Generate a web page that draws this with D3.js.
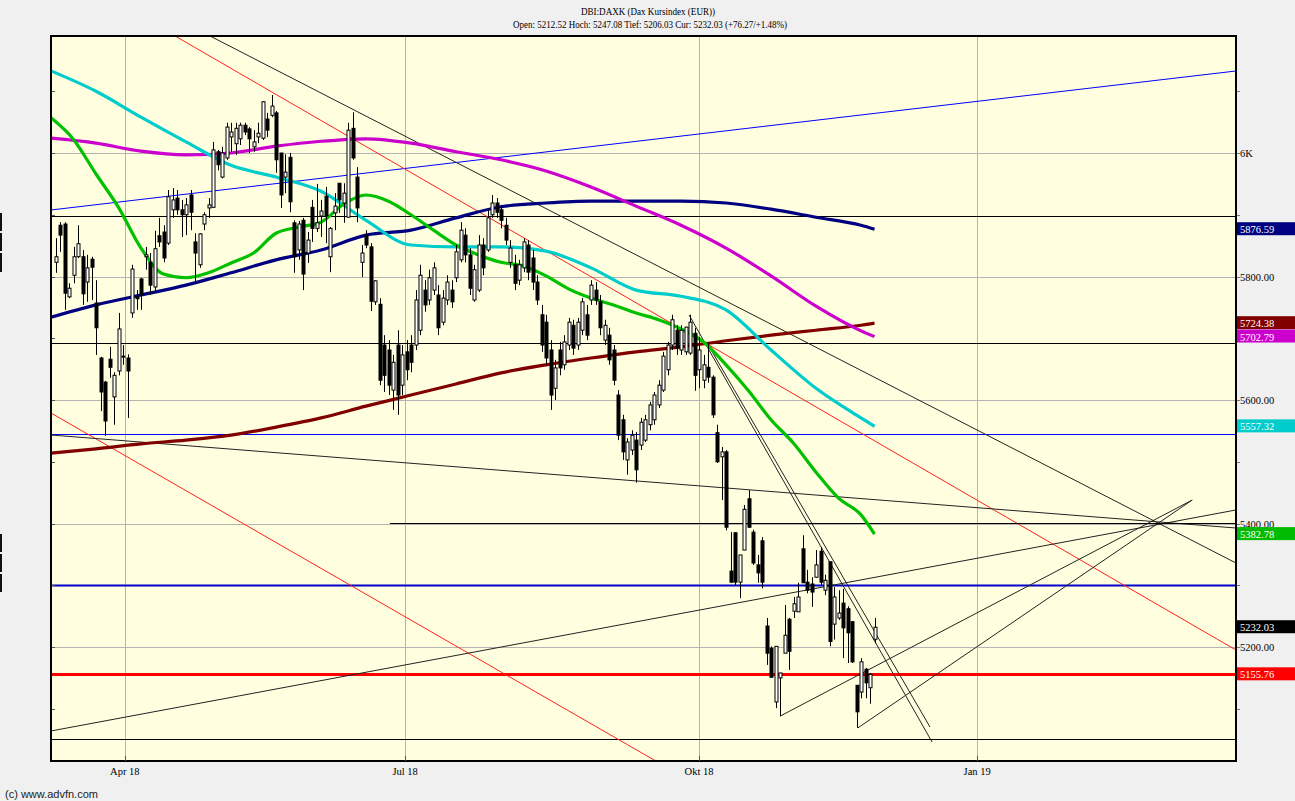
<!DOCTYPE html>
<html><head><meta charset="utf-8">
<script src="https://cdn.jsdelivr.net/npm/d3@7"></script>
<style>body{margin:0;background:#f0f0f0;overflow:hidden}svg{display:block}</style>
</head><body><svg id="c" width="1295" height="801"></svg>
<script>
// ---------- DATA ----------
const titleText = "DBI:DAXK (Dax Kursindex (EUR))";
const subText = "Open: 5212.52 Hoch: 5247.08 Tief: 5206.03 Cur: 5232.03 (+76.27/+1.48%)";
const opens = [5823,5883,5885,5767,5802,5832,5832,5791,5828,5757,5668,5629,5666,5605,5647,5670,5668,5741,5768,5796,5832,5823,5783,5866,5872,5854,5908,5927,5908,5900,5932,5856,5819,5885,5911,5912,6002,5961,5992,6026,6015,6023,6045,6039,6010,6026,6024,6055,6061,6065,6000,5961,5993,5887,5843,5891,5838,5912,5878,5898,5930,5832,5903,5951,5919,5896,6040,5961,5823,5867,5848,5759,5755,5689,5681,5616,5689,5624,5678,5689,5689,5713,5778,5762,5778,5770,5726,5762,5778,5798,5827,5867,5835,5762,5778,5851,5843,5900,5919,5908,5883,5823,5819,5794,5814,5851,5830,5791,5738,5726,5681,5619,5681,5657,5689,5721,5689,5713,5738,5762,5778,5759,5697,5705,5681,5608,5568,5503,5519,5535,5527,5535,5560,5568,5592,5616,5649,5689,5713,5681,5678,5676,5708,5649,5632,5653,5637,5547,5508,5516,5323,5385,5305,5357,5440,5386,5333,5372,5234,5198,5111,5150,5190,5245,5258,5257,5359,5305,5302,5313,5355,5292,5338,5237,5247,5271,5262,5241,5138,5127,5164,5134,5212.52];
const highs = [5862,5888,5888,5789,5848,5883,5843,5835,5832,5794,5670,5631,5686,5645,5741,5689,5674,5819,5778,5798,5848,5838,5874,5895,5883,5940,5943,5940,5924,5927,5940,5870,5870,5904,5927,6018,6005,6010,6049,6049,6049,6049,6049,6042,6037,6049,6084,6065,6094,6068,6000,5998,6000,5891,5890,5895,5872,5924,5950,5924,5945,5880,5935,5951,5951,6049,6066,5977,5851,5875,5854,5794,5765,5705,5697,5673,5713,5689,5697,5705,5778,5819,5794,5811,5823,5786,5778,5802,5794,5851,5888,5878,5846,5819,5867,5862,5908,5932,5927,5916,5895,5859,5835,5827,5862,5859,5843,5802,5754,5738,5697,5665,5694,5705,5733,5730,5733,5765,5754,5794,5791,5770,5730,5717,5689,5616,5576,5538,5551,5548,5571,5576,5597,5613,5632,5678,5694,5738,5721,5721,5718,5738,5717,5702,5673,5692,5640,5560,5524,5519,5386,5386,5349,5430,5454,5390,5349,5378,5247,5201,5201,5158,5268,5247,5281,5304,5381,5325,5313,5357,5362,5317,5338,5297,5292,5294,5266,5241,5138,5182,5166,5158,5247.08];
const lows = [5806,5840,5746,5765,5789,5830,5754,5759,5762,5673,5582,5542,5636,5560,5640,5657,5571,5733,5746,5746,5811,5770,5775,5848,5823,5851,5895,5900,5864,5867,5875,5789,5814,5875,5895,5912,5972,5959,5989,6002,5997,6013,6029,6000,6002,6016,6021,6026,6058,5968,5911,5935,5904,5806,5827,5778,5822,5856,5872,5864,5854,5807,5875,5903,5887,5896,5989,5888,5799,5846,5744,5754,5624,5613,5608,5584,5576,5608,5632,5645,5681,5705,5743,5754,5770,5705,5721,5754,5749,5791,5823,5823,5770,5759,5775,5802,5840,5895,5895,5878,5851,5814,5778,5786,5807,5794,5778,5754,5678,5657,5584,5600,5640,5649,5681,5673,5681,5705,5697,5754,5754,5705,5689,5657,5624,5535,5503,5479,5511,5466,5519,5532,5551,5560,5587,5613,5640,5681,5673,5673,5673,5673,5615,5619,5619,5628,5571,5498,5438,5389,5304,5300,5279,5357,5393,5333,5304,5295,5171,5151,5101,5088,5190,5163,5247,5257,5304,5287,5265,5312,5300,5284,5201,5212,5244,5182,5174,5174,5069,5117,5117,5108,5206.03];
const closes = [5832,5867,5773,5781,5832,5853,5772,5814,5815,5717,5613,5566,5653,5640,5715,5671,5647,5812,5764,5770,5835,5786,5845,5856,5830,5929,5924,5908,5900,5916,5904,5838,5869,5900,5916,6005,5981,6000,6042,6034,6040,6045,6034,6023,6018,6032,6083,6037,6076,5989,5932,5969,5921,5832,5885,5804,5859,5878,5887,5906,5898,5878,5914,5924,5935,6037,5992,5911,5838,5851,5760,5793,5632,5640,5624,5661,5608,5673,5649,5661,5762,5802,5754,5798,5814,5717,5765,5791,5759,5840,5875,5835,5781,5811,5851,5814,5895,5919,5904,5891,5859,5846,5789,5819,5856,5807,5791,5762,5689,5668,5608,5652,5652,5694,5726,5684,5726,5759,5705,5786,5762,5717,5721,5665,5632,5543,5516,5532,5543,5487,5564,5568,5592,5608,5624,5671,5689,5730,5684,5713,5718,5726,5640,5681,5657,5637,5576,5500,5516,5394,5305,5305,5349,5423,5394,5336,5320,5305,5190,5151,5201,5158,5219,5193,5270,5281,5304,5292,5289,5333,5305,5308,5209,5281,5255,5231,5223,5176,5095,5176,5142,5155.76,5232.03];

// moving averages, read at these bar indices
const maIdx = [-1,9,19,29,39,49,59,69,79,89,99,109,119,129,139,149,159,169,179,182];
const maCyan    = [6133,6100,6058,6018,5980,5961,5938,5891,5851,5848,5848,5841,5814,5778,5768,5746,5681,5619,5571,5557.32];
const maMagenta = [6024,6016,6003,5997,6000,6011,6019,6023,6016,6002,5989,5971,5945,5914,5883,5846,5801,5752,5712,5702.79];
const maNavy    = [5734,5754,5770,5786,5806,5827,5843,5867,5875,5895,5913,5919,5922,5922,5922,5919,5909,5896,5883,5876.59];
const maDarkRed = [5514,5521,5529,5535,5543,5556,5571,5590,5608,5626,5644,5657,5668,5678,5686,5696,5705,5713,5721,5724.38];
const greenIdx = [-1,4,9,14,19,24,29,34,39,44,49,54,59,64,69,74,79,84,89,94,99,104,109,114,119,124,129,134,139,144,149,154,159,164,169,174,179,182];
const maGreen  = [6057,6022,5966,5912,5846,5804,5798,5806,5822,5838,5870,5880,5888,5917,5932,5922,5900,5875,5851,5835,5823,5817,5801,5780,5765,5754,5741,5730,5715,5694,5657,5615,5568,5530,5483,5441,5414,5382.78];

// axis
const yTickValues = [6000,5800,5600,5400,5200];
const yTickLabels = ["6K","5800.00","5600.00","5400.00","5200.00"];
const yMinorValues = [6100,6000,5900,5800,5700,5600,5500,5400,5300,5200,5100];
const xTickLabels = ["Apr 18","Jul 18","Okt 18","Jan 19"];
const xTickIdx = [15.4,77.7,143,204.8];

// last-value labels
const lastLabelValues = [5876.59,5724.38,5702.79,5557.32,5382.78,5232.03,5155.76];

// drawn horizontal levels and trend lines (bar index, value)
const hLevels = [5897.9,5692.3,5544.9,5300.4,5155.76,5051];
const hLevelStart = [-1,-1,-1,-1,-1,-1];
const trendLines = [
  {i1:-1, v1:5907.7, i2:262.33, v2:6132.8},   // blue up channel
  {i1:34.33, v1:6189.5, i2:262.33, v2:5336},   // black down
  {i1:26.56, v1:6189.5, i2:262.33, v2:5195.1}, // red upper
  {i1:-1, v1:5578.9, i2:133.4, v2:5015.4},     // red lower
  {i1:-1, v1:5543.3, i2:262.33, v2:5392.7},    // black flat
  {i1:-1, v1:5064, i2:262.33, v2:5421.9},      // black rising
  {i1:140.8, v1:5737.6, i2:194.8, v2:5046},    // steep 1
  {i1:144.8, v1:5692.3, i2:194.33, v2:5070.4}, // steep 2
  {i1:178.3, v1:5069, i2:252.6, v2:5438},      // from last low
  {i1:161, v1:5088, i2:252.6, v2:5438},        // from previous low
  {i1:74.3, v1:5400, i2:262.33, v2:5400}       // 5400 line
];

// ---------- DRAW ----------
const svg = d3.select("#c");
const L = 51, R = 1236, T = 36, B = 761;
const x = d3.scaleLinear().domain([-1, 262.33]).range([L, R]);
const y0 = d3.scaleLinear().domain([5200, 6000]).range([647, 153]);
const y = d3.scaleLinear().domain([y0.invert(B), y0.invert(T)]).range([B, T]);

svg.append("rect").attr("width",1295).attr("height",801).attr("fill","#f0f0f0");
svg.append("rect").attr("x",L).attr("y",T).attr("width",R-L).attr("height",B-T).attr("fill","#ffffe0");

const clip = svg.append("clipPath").attr("id","pc").append("rect").attr("x",L).attr("y",T).attr("width",R-L).attr("height",B-T);
const g = svg.append("g").attr("clip-path","url(#pc)");

// grid
g.selectAll(".hg").data(yTickValues).join("line")
  .attr("x1",L).attr("x2",R).attr("y1",d=>Math.round(y(d))+0.5).attr("y2",d=>Math.round(y(d))+0.5)
  .attr("stroke","#b4b4b4").attr("stroke-width",1);
g.selectAll(".vg").data(xTickIdx).join("line")
  .attr("y1",T).attr("y2",B).attr("x1",d=>Math.round(x(d))+0.5).attr("x2",d=>Math.round(x(d))+0.5)
  .attr("stroke","#b4b4b4").attr("stroke-width",1);

// horizontal levels
const hStyle = [
  {c:"#000",w:1},{c:"#000",w:1},{c:"#0000ff",w:1},{c:"#0000cc",w:2},{c:"#ff0000",w:3},{c:"#000",w:1}
];
g.selectAll(".hl").data(hLevels).join("line")
  .attr("x1",(d,i)=>x(hLevelStart[i])).attr("x2",R)
  .attr("y1",d=>Math.round(y(d))+0.5).attr("y2",d=>Math.round(y(d))+0.5)
  .attr("stroke",(d,i)=>hStyle[i].c).attr("stroke-width",(d,i)=>hStyle[i].w);

// trend lines
const tStyle = ["#0000ff","#222","#ff2020","#ff2020","#222","#222","#222","#222","#222","#222","#000"];
g.selectAll(".tl").data(trendLines).join("line")
  .attr("x1",d=>x(d.i1)).attr("y1",d=>y(d.v1)).attr("x2",d=>x(d.i2)).attr("y2",d=>y(d.v2))
  .attr("stroke",(d,i)=>tStyle[i]).attr("stroke-width",1);

// moving averages
const line = d3.line().x(d=>x(d[0])).y(d=>y(d[1])).curve(d3.curveMonotoneX);
const mas = [
  {idx:maIdx, v:maDarkRed, c:"#800000"},
  {idx:maIdx, v:maNavy, c:"#000080"},
  {idx:maIdx, v:maMagenta, c:"#cc00cc"},
  {idx:maIdx, v:maCyan, c:"#00cccc"},
  {idx:greenIdx, v:maGreen, c:"#00c000"}
];
mas.forEach(m=>{
  g.append("path").attr("d", line(m.idx.map((d,i)=>[d,m.v[i]])))
    .attr("fill","none").attr("stroke",m.c).attr("stroke-width",3.2);
});

// candles
const bars = opens.map((o,i)=>({i,o,h:highs[i],l:lows[i],c:closes[i]}));
const cg = g.append("g");
cg.selectAll(".wk").data(bars).join("line")
  .attr("x1",d=>Math.round(x(d.i))+0.5).attr("x2",d=>Math.round(x(d.i))+0.5)
  .attr("y1",d=>y(d.h)).attr("y2",d=>y(d.l)).attr("stroke","#000").attr("stroke-width",1);
cg.selectAll(".bd").data(bars).join("rect")
  .attr("x",d=>Math.round(x(d.i))-1)
  .attr("width",3)
  .attr("y",d=>y(Math.max(d.o,d.c)))
  .attr("height",d=>Math.max(1,Math.abs(y(d.o)-y(d.c))))
  .attr("fill",d=>d.c>=d.o?"#ffffff":"#000")
  .attr("stroke","#000").attr("stroke-width",1);

// frame
svg.append("rect").attr("x",L).attr("y",T).attr("width",R-L).attr("height",B-T)
  .attr("fill","none").attr("stroke","#000").attr("stroke-width",2);

// minor ticks
svg.selectAll(".mtl").data(yMinorValues.filter(v=>y(v)>T&&y(v)<B)).join("line")
  .attr("x1",L+1).attr("x2",L+4).attr("y1",d=>Math.round(y(d))+0.5).attr("y2",d=>Math.round(y(d))+0.5)
  .attr("stroke","#555");
svg.selectAll(".mtr").data(yMinorValues.filter(v=>y(v)>T&&y(v)<B)).join("line")
  .attr("x1",R+1).attr("x2",R+4).attr("y1",d=>Math.round(y(d))+0.5).attr("y2",d=>Math.round(y(d))+0.5)
  .attr("stroke","#777");
svg.selectAll(".xt").data(xTickIdx).join("line")
  .attr("x1",d=>Math.round(x(d))+0.5).attr("x2",d=>Math.round(x(d))+0.5).attr("y1",B-5).attr("y2",B)
  .attr("stroke","#555");

const font = "'Liberation Serif', 'Times New Roman', serif";
// right tick labels
svg.selectAll(".ytl").data(yTickValues).join("text")
  .attr("x",R+4).attr("y",d=>y(d)+4).text((d,i)=>yTickLabels[i])
  .attr("font-family",font).attr("font-size",10.5).attr("fill","#000");

// last value boxes
const boxColors = ["#000080","#800000","#cc00cc","#00cccc","#00bb00","#000000","#ff0000"];
const lb = svg.selectAll(".lb").data(lastLabelValues).join("g");
lb.append("rect").attr("x",R+1).attr("y",d=>y(d)-7).attr("width",1295-R-1).attr("height",13)
  .attr("fill",(d,i)=>boxColors[i]);
lb.append("text").attr("x",R+4).attr("y",d=>y(d)+4).text(d=>d.toFixed(2))
  .attr("font-family",font).attr("font-size",10.5).attr("fill","#fff");

// bottom labels
svg.selectAll(".xl").data(xTickIdx).join("text")
  .attr("x",d=>x(d)).attr("y",775).attr("text-anchor","middle").text((d,i)=>xTickLabels[i])
  .attr("font-family",font).attr("font-size",10.5).attr("fill","#000");

// titles
svg.append("text").attr("x",648).attr("y",15).attr("text-anchor","middle").text(titleText)
  .attr("font-family",font).attr("font-size",11).attr("textLength",134).attr("lengthAdjust","spacingAndGlyphs");
svg.append("text").attr("x",650).attr("y",28).attr("text-anchor","middle").text(subText)
  .attr("font-family",font).attr("font-size",11).attr("textLength",274).attr("lengthAdjust","spacingAndGlyphs");

svg.append("text").attr("x",5).attr("y",798).text("(c) www.advfn.com")
  .attr("font-family","'Liberation Sans', Arial, sans-serif").attr("font-size",11).attr("fill","#222");

// left edge marks
[[213,231],[233,251],[253,272],[534,552],[554,572],[574,592]].forEach(s=>{
  svg.append("rect").attr("x",0).attr("y",s[0]).attr("width",2).attr("height",s[1]-s[0]).attr("fill","#111");
});
</script></body></html>
